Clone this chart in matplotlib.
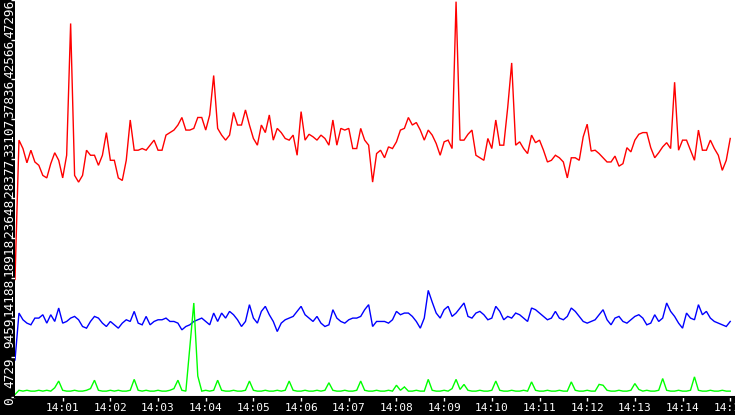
import numpy as np
import matplotlib
matplotlib.use("Agg")
import matplotlib.pyplot as plt

# values in thousands, one sample every 5 s starting at 14:00:00
red_k = [14.0,
    30.6,29.6,27.9,29.4,28.0,27.6,26.4,26.1,27.8,29.1,
    28.2,26.1,28.8,44.5,26.4,25.6,26.4,29.4,28.8,28.8,
    27.6,28.8,31.5,28.2,28.2,26.1,25.8,28.2,33.0,29.4,
    29.4,29.6,29.4,30.0,30.6,29.4,29.4,31.2,31.5,31.8,
    32.4,33.3,31.8,31.8,32.0,33.3,
    33.3,31.8,33.6,38.3,32.0,31.2,30.6,31.2,33.9,32.4,
    32.4,34.2,32.4,30.8,30.0,32.4,31.5,33.6,30.6,32.0,
    31.5,30.8,30.6,31.2,28.8,34.0,30.6,31.3,31.0,30.6,
    31.2,30.8,30.0,33.0,30.0,32.0,31.8,32.0,29.6,29.6,
    32.0,30.6,30.0,25.6,29.0,29.4,
    28.5,29.8,29.6,30.4,31.8,32.0,33.3,32.4,32.7,31.8,
    30.6,31.8,31.2,30.2,28.8,30.4,30.6,29.6,47.1,30.6,
    30.6,31.3,31.8,28.8,28.5,28.2,30.8,29.6,33.0,30.0,
    30.0,34.5,39.8,30.0,30.4,29.6,29.0,31.2,30.3,30.6,
    29.4,28.0,28.2,28.8,
    28.5,28.0,26.1,28.5,28.5,28.2,31.0,32.5,29.3,29.4,
    29.0,28.5,28.0,28.0,28.7,27.5,27.8,29.7,29.2,30.6,
    31.3,31.5,31.5,29.7,28.5,29.1,29.8,30.3,29.6,37.5,
    29.4,30.6,30.6,29.4,28.2,31.8,29.4,29.4,30.6,29.6,
    28.8,27.0,28.2,30.8]

blue_k = [4.4,
    10.0,9.2,8.8,8.6,9.4,9.4,9.8,8.8,9.8,9.0,
    10.6,8.8,9.0,9.4,9.6,9.2,8.4,8.2,9.0,9.6,
    9.4,8.8,8.4,9.0,8.6,8.2,8.8,9.2,9.0,10.2,
    8.8,8.6,9.6,8.6,9.0,9.2,9.2,9.4,9.0,9.0,
    8.8,8.0,8.4,8.6,9.0,9.2,9.4,9.0,8.6,10.0,
    9.0,10.0,9.4,10.2,9.8,9.2,8.4,9.0,11.0,9.4,
    8.8,10.2,10.8,9.8,9.0,7.8,8.8,9.2,9.4,9.6,
    10.2,10.8,9.8,9.4,9.0,9.6,8.8,8.4,8.6,10.4,
    9.4,9.0,8.8,9.2,9.4,9.4,9.6,10.4,11.0,8.4,
    9.0,9.0,
    9.0,8.8,9.2,10.2,9.8,10.0,10.0,9.6,9.0,8.2,
    9.4,12.7,11.3,10.0,9.4,10.4,10.8,9.6,10.0,10.6,
    11.2,9.6,9.4,10.0,10.2,9.8,9.2,9.4,10.8,10.2,
    9.2,9.6,9.4,10.0,9.8,9.4,9.0,10.6,10.4,10.0,
    9.6,9.2,9.4,10.2,9.4,9.2,9.6,10.6,10.2,9.6,
    9.0,8.8,9.0,9.2,9.8,10.4,9.2,8.6,9.4,9.6,
    9.0,8.8,9.2,9.6,9.8,9.4,8.6,8.8,9.8,9.0,
    9.4,11.2,10.2,9.6,8.8,8.2,10.0,9.4,9.2,11.0,
    9.8,10.2,9.4,9.0,8.8,8.6,8.4,9.0]

green_k = [
    0.3,0.8,0.7,0.8,0.7,0.7,0.8,0.7,0.8,0.7,
    1.1,1.9,0.8,0.7,0.7,0.8,0.7,0.7,0.8,1.0,
    2.0,0.8,0.7,0.7,0.8,0.7,0.8,0.7,0.7,0.8,
    2.1,0.8,0.7,0.8,0.7,0.7,0.8,0.7,0.7,0.8,
    1.0,2.0,0.8,0.7,6.0,11.2,2.5,0.7,0.8,0.7,
    0.8,2.0,0.8,0.7,0.7,0.8,0.7,0.7,0.8,1.9,
    0.8,0.7,0.7,0.8,0.7,0.7,0.8,0.7,0.8,1.9,
    0.8,0.7,0.7,0.8,0.7,0.7,0.8,0.7,0.8,1.7,
    0.8,0.7,0.7,0.8,0.7,0.7,0.8,1.9,0.8,0.7,
    0.7,0.8,0.7,0.7,0.8,0.7,1.4,0.8,1.2,0.7,
    0.7,0.8,0.7,0.7,2.1,0.8,0.7,0.7,0.8,0.7,
    1.0,2.1,0.9,1.5,0.8,0.7,0.7,0.8,0.7,0.7,
    0.8,1.9,0.8,0.7,0.7,0.8,0.7,0.7,0.8,0.7,
    1.8,0.8,0.7,0.7,0.8,0.7,0.7,0.8,0.7,0.7,
    1.8,0.8,0.7,0.7,0.8,0.7,0.7,1.5,1.4,0.8,
    0.7,0.7,0.8,0.7,0.7,0.8,1.6,0.9,0.7,0.8,
    0.7,0.7,0.8,2.2,0.8,0.7,0.7,0.8,0.7,0.7,
    0.8,2.4,0.8,0.7,0.7,0.8,0.7,0.7,0.8,0.7,
    0.7]

y_tick_labels = ["0","4729","9459","14188","18918","23648","28377",
                 "33107","37836","42566","47296"]
x_tick_labels = ["14:01","14:02","14:03","14:04","14:05","14:06","14:07",
                 "14:08","14:09","14:10","14:11","14:12","14:13","14:14","14:15"]

step = 5.0
ymax = 47296.0

fig = plt.figure(figsize=(7.35, 4.15), dpi=100, facecolor="black")
ax = fig.add_axes([15/735, 18/415, 720/735, 397/415])
ax.set_facecolor("white")

for vals, col in [(red_k, "#ff0000"), (blue_k, "#0000ff"), (green_k, "#00ff00")]:
    v = np.array(vals) * 1000
    t = np.arange(len(v)) * step
    ax.plot(t, v, color=col, lw=1.0, solid_joinstyle="miter")

ax.set_xlim(0, 906)
ax.set_ylim(0, ymax)

yt = [ymax * k / 10 for k in range(11)]
ax.set_yticks(yt)
ax.set_yticklabels(y_tick_labels, family="DejaVu Sans Mono", fontsize=9.2, color="white")
for lab in ax.get_yticklabels():
    lab.set_rotation(90)
    lab.set_verticalalignment("top")
    lab.set_horizontalalignment("center")
    lab.set_rotation_mode("default")
ax.tick_params(axis="y", length=3, width=1, color="white", pad=1)

xt = [60 * (k + 1) for k in range(len(x_tick_labels))]
ax.set_xticks(xt)
ax.set_xticklabels(x_tick_labels, family="DejaVu Sans Mono", fontsize=8, color="white")
ax.tick_params(axis="x", length=3, width=1, color="white", pad=1)

for s in ax.spines.values():
    s.set_visible(False)
ax.spines["bottom"].set_visible(True)
ax.spines["bottom"].set_color("black")
ax.spines["bottom"].set_linewidth(1.5)

fig.savefig("out.png", dpi=100, facecolor="black")
